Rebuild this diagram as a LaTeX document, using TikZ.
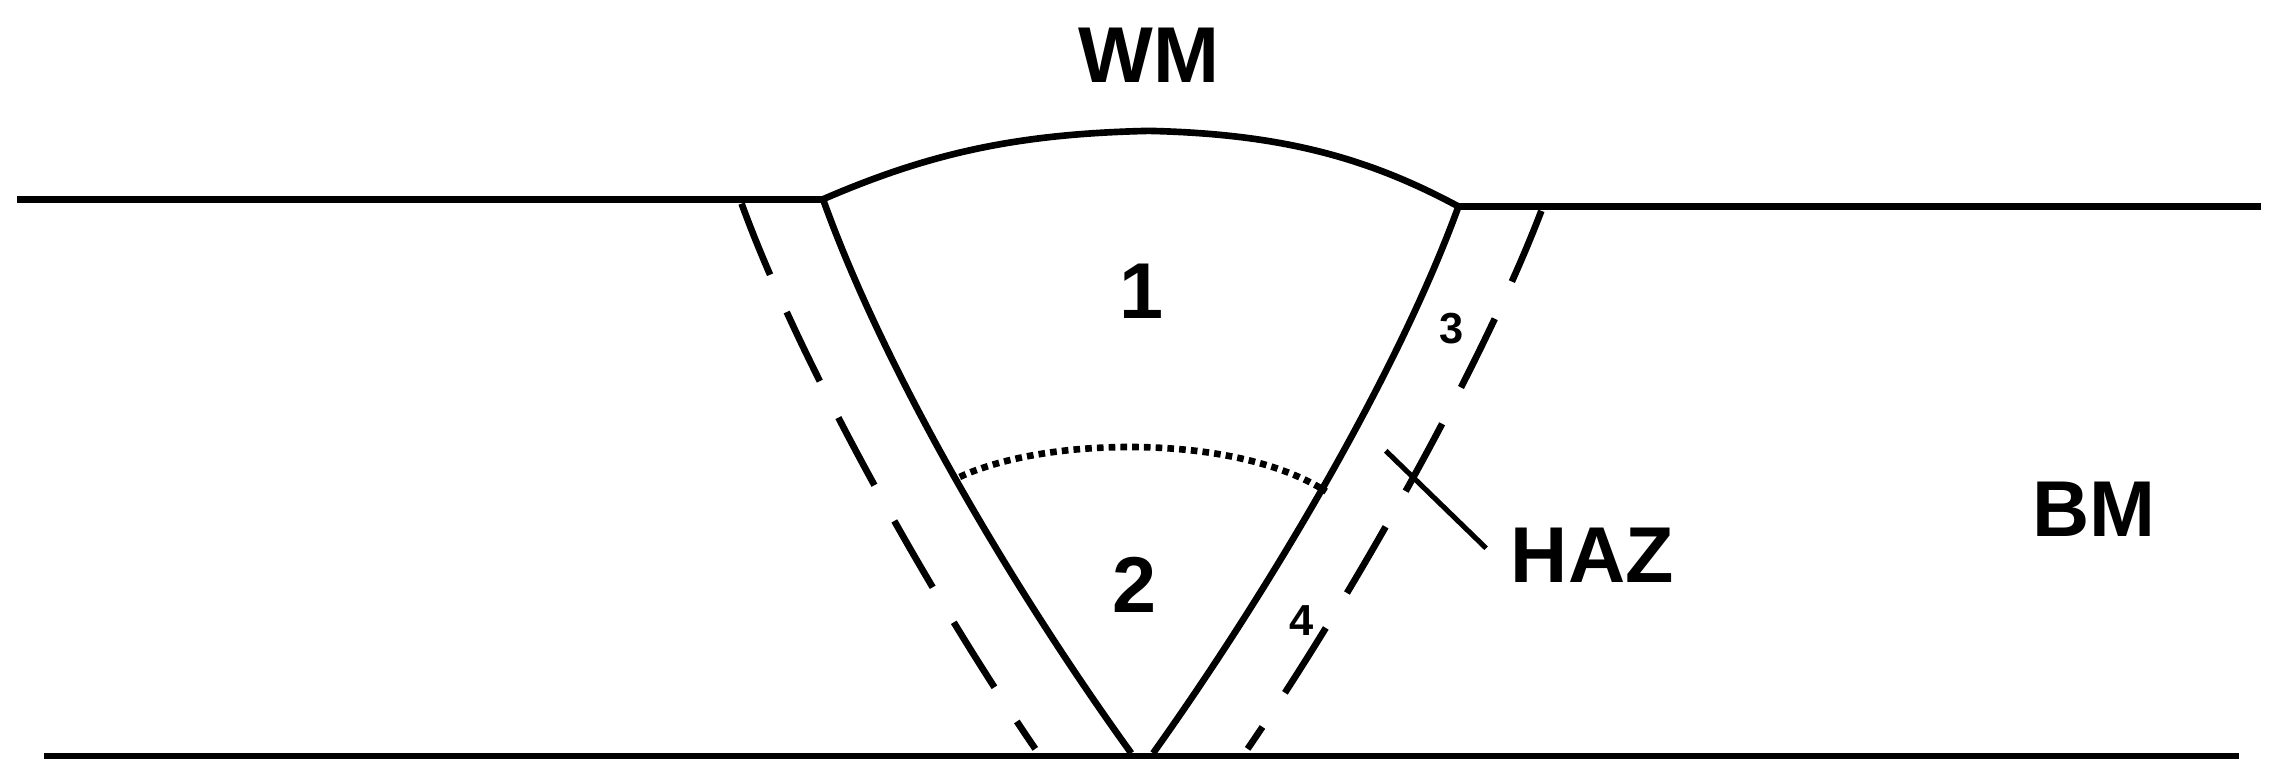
\documentclass[tikz,border=0pt]{standalone}
\usepackage{fontspec}
\setmainfont{Liberation Sans}
\begin{document}
\begin{tikzpicture}[x=0.02cm,y=-0.02cm,
  ln/.style={line width=2.6pt},
  big/.style={font=\fontsize{31}{31}\selectfont\bfseries},
  small/.style={font=\fontsize{17}{17}\selectfont\bfseries}]
\useasboundingbox (0,0) rectangle (1568,538);
\coordinate (tl1) at (12,137); \coordinate (tl2) at (566,137);
\coordinate (tr1) at (1003,142); \coordinate (tr2) at (1555,142);
\coordinate (bl1) at (30,520); \coordinate (bl2) at (1540,520);
\draw[ln] (tl1) -- (tl2);
\draw[ln] (tr1) -- (tr2);
\draw[ln] (bl1) -- (bl2);
\draw[ln] (tl2) .. controls (640,105) and (700,92) .. (790,90) .. controls (880,92) and (940,108) .. (tr1);
\draw[ln] (tl2) .. controls (610,260) and (700,410) .. (778,518);
\draw[ln] (tr1) .. controls (960,260) and (870,410) .. (793,518);
\draw[ln,dashed,dash pattern=on 30pt off 16pt] (510,140) .. controls (550,250) and (640,410) .. (712,515);
\draw[ln,dashed,dash pattern=on 30pt off 16pt] (1060,145) .. controls (1020,250) and (930,410) .. (858,515);
\draw[ln,dotted] (660,328) .. controls (720,300) and (850,298) .. (912,338);
\draw[line width=2pt] (953,310) -- (1022,377);
\node[big] (wm) at (790,38) {WM};
\node[big] (bm) at (1440,350) {BM};
\node[big] (haz) at (1095,382) {HAZ};
\node[big] (n1) at (785,200) {1};
\node[big] (n2) at (780,402) {2};
\node[small] (n3) at (998,226) {3};
\node[small] (n4) at (895,427) {4};
\end{tikzpicture}
\end{document}
